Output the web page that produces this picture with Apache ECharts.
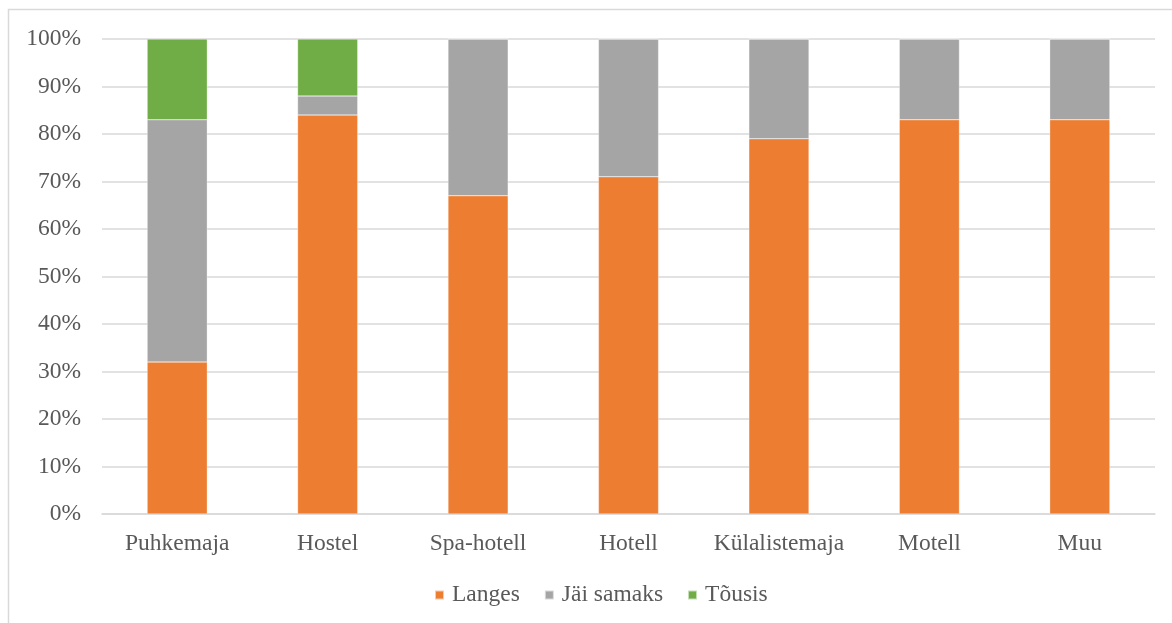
<!DOCTYPE html>
<html>
<head>
<meta charset="utf-8">
<script src="https://cdn.jsdelivr.net/npm/echarts@6/dist/echarts.min.js"></script>
<style>
html,body{margin:0;padding:0;background:#fff;}
#c{width:1172px;height:623px;}
</style>
</head>
<body>
<div id="c"></div>
<script>
const categories = ['Puhkemaja','Hostel','Spa-hotell','Hotell','Külalistemaja','Motell','Muu'];
const langes = [32, 84, 67, 71, 79, 83, 83];
const jaiSamaks = [51, 4, 33, 29, 21, 17, 17];
const tousis = [17, 12, 0, 0, 0, 0, 0];
const seriesNames = ['Langes','Jäi samaks','Tõusis'];
const colors = ['#ED7D31','#A5A5A5','#70AD47'];

const font = 'Liberation Serif, Times New Roman, serif';
const chart = echarts.init(document.getElementById('c'));
const mk = (name, data, color) => ({
  name, type:'bar', stack:'total', data, barWidth:'40%',
  itemStyle:{color, borderColor:'rgba(255,255,255,0.6)', borderWidth:0.5},
  emphasis:{disabled:true}
});
chart.setOption({
  animation:false,
  color: colors,
  graphic:[{type:'rect', shape:{x:8.5,y:9.5,width:1200,height:700}, style:{fill:'none', stroke:'#d9d9d9', lineWidth:1.5}, silent:true}],
  grid:{left:102, right:17, top:39, bottom:109, containLabel:false},
  legend:{
    data: seriesNames, left:429, top:578, itemWidth:9, itemHeight:9, itemGap:24,
    icon:'rect',
    textStyle:{fontFamily:font, fontSize:23.5, color:'#595959', padding:[0,0,0,3]}
  },
  xAxis:{
    type:'category', data:categories,
    axisLine:{lineStyle:{color:'#d9d9d9', width:1.5}},
    axisTick:{show:false},
    axisLabel:{fontFamily:font, fontSize:23.5, color:'#595959', margin:18, interval:0}
  },
  yAxis:{
    type:'value', min:0, max:100, interval:10,
    axisLine:{show:false}, axisTick:{show:false},
    splitLine:{lineStyle:{color:'#d9d9d9', width:1.5}},
    axisLabel:{fontFamily:font, fontSize:23.5, color:'#595959', margin:21, formatter:'{value}%'}
  },
  series:[mk(seriesNames[0], langes, colors[0]), mk(seriesNames[1], jaiSamaks, colors[1]), mk(seriesNames[2], tousis, colors[2])]
});
</script>
</body>
</html>
